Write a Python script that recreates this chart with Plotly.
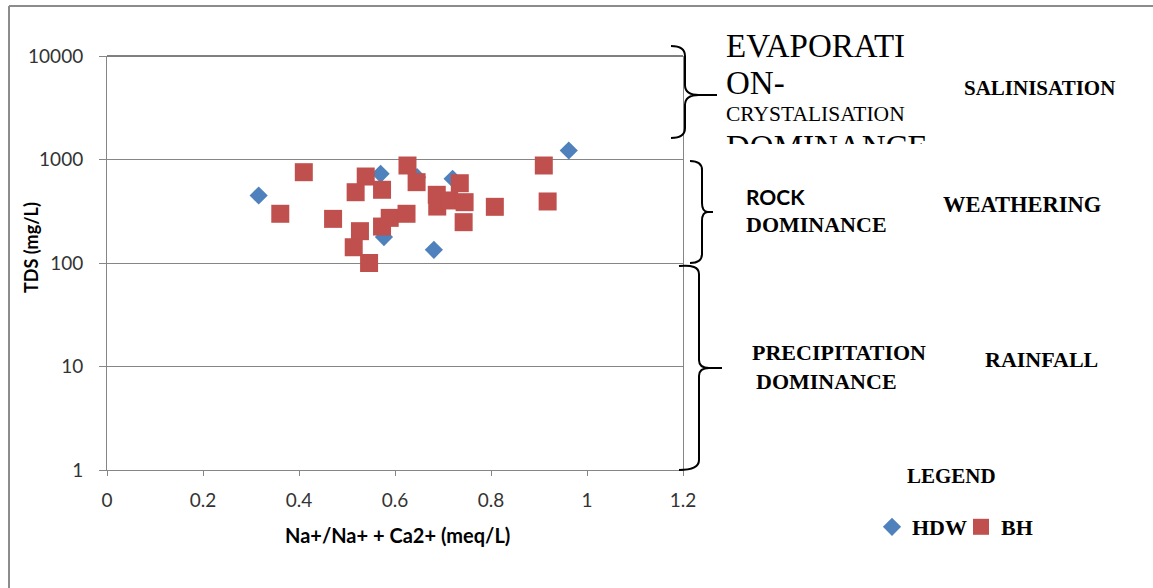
import plotly.graph_objects as go

# ---------------- data ----------------
hdw_x = [0.316, 0.570, 0.646, 0.720, 0.577, 0.681, 0.962]
hdw_y = [449, 727, 675, 652, 178, 134, 1222]

bh_x = [0.410, 0.361, 0.471, 0.518, 0.539, 0.573, 0.527, 0.514, 0.546, 0.573,
        0.589, 0.624, 0.626, 0.645, 0.687, 0.688, 0.713, 0.735, 0.745, 0.743,
        0.808, 0.910, 0.918]
bh_y = [754, 299, 267, 483, 685, 510, 203, 142, 100, 225,
        273, 299, 875, 604, 456, 351, 402, 590, 387, 248,
        349, 875, 393]

x_tick_vals = [0, 0.2, 0.4, 0.6, 0.8, 1.0, 1.2]
x_tick_text = ["0", "0.2", "0.4", "0.6", "0.8", "1", "1.2"]
y_tick_vals = [1, 10, 100, 1000, 10000]
y_tick_text = ["1", "10", "100", "1000", "10000"]

series_names = ["HDW", "BH"]
series_colors = ["#4F81BD", "#C0504D"]

x_title = "Na+/Na+ + Ca2+ (meq/L)"
y_title = "TDS (mg/L)"

box_lines = ["EVAPORATI", "ON-", "CRYSTALISATION", "DOMINANCE"]
box_sizes = [33, 33, 21.5, 33]

# ---------------- helpers (pixel -> paper) ----------------
W, H = 1153, 588
def px(x):
    return x / W
def py(y):
    return (H - y) / H

def path(cmds):
    out = []
    for c in cmds:
        if isinstance(c, str):
            out.append(c)
        else:
            out.append(f"{px(c[0]):.5f},{py(c[1]):.5f}")
    return " ".join(out)

SERIF = "Liberation Serif"
SANS = "Lato"

fig = go.Figure()

fig.add_trace(go.Scatter(
    x=hdw_x, y=hdw_y, mode="markers", name=series_names[0],
    marker=dict(symbol="diamond", size=14, color=series_colors[0]),
    xaxis="x", yaxis="y"))
fig.add_trace(go.Scatter(
    x=bh_x, y=bh_y, mode="markers", name=series_names[1],
    marker=dict(symbol="square", size=18, color=series_colors[1]),
    xaxis="x", yaxis="y"))

# clipped text box (evaporation-crystallisation dominance)
fig.add_trace(go.Scatter(
    x=[726, 726, 726, 726], y=[49, 86, 116, 150],
    mode="text", text=box_lines, textposition="middle right",
    textfont=dict(family=SERIF, size=box_sizes, color="#000000"),
    cliponaxis=True, showlegend=False, hoverinfo="skip",
    xaxis="x2", yaxis="y2"))

grid_col = "#868686"

fig.update_layout(
    template="none",
    width=W, height=H, autosize=False,
    margin=dict(l=0, r=0, t=0, b=0, pad=0, autoexpand=False),
    paper_bgcolor="white", plot_bgcolor="white",
    showlegend=True,
    legend=dict(orientation="h", x=px(872), y=py(527), xanchor="left", yanchor="middle",
                font=dict(family=SERIF, size=22, color="#000000", weight="bold"),
                bgcolor="rgba(0,0,0,0)", itemwidth=30, entrywidth=44, entrywidthmode="pixels",
                tracegroupgap=0, borderwidth=0),
    xaxis=dict(domain=[px(107), px(683)], range=[0, 1.2], automargin=False,
               tickvals=x_tick_vals, ticktext=x_tick_text,
               showgrid=False, zeroline=False,
               showline=True, linecolor=grid_col, linewidth=1,
               ticks="outside", ticklen=5, tickcolor=grid_col, tickwidth=1,
               ticklabelstandoff=8,
               tickfont=dict(family=SANS, size=19, color="#333333"),
               anchor="y"),
    yaxis=dict(domain=[py(470), py(56)], type="log", range=[0, 4], automargin=False,
               tickvals=y_tick_vals, ticktext=y_tick_text,
               showgrid=True, gridcolor=grid_col, gridwidth=1,
               zeroline=False, showline=True, linecolor=grid_col, linewidth=1,
               mirror=True,
               ticks="outside", ticklen=7, tickcolor=grid_col, tickwidth=1,
               ticklabelstandoff=12,
               tickfont=dict(family=SANS, size=19, color="#333333"),
               anchor="x"),
    xaxis2=dict(domain=[px(700), px(1000)], range=[700, 1000], visible=False,
                anchor="y2", fixedrange=True, automargin=False),
    yaxis2=dict(domain=[py(144), py(20)], range=[144, 20], visible=False,
                anchor="x2", fixedrange=True, automargin=False),
)

annotations = [
    dict(text=f"<b>{x_title}</b>", x=px(397), y=py(535), xanchor="center", yanchor="middle",
         font=dict(family=SANS, size=20, color="#000000")),
    dict(text=f"<b>{y_title}</b>", x=px(31), y=py(248), xanchor="center", yanchor="middle",
         textangle=-90, font=dict(family=SANS, size=18, color="#000000")),
    dict(text="<b>SALINISATION</b>", x=px(962), y=py(88), xanchor="left", yanchor="middle",
         font=dict(family=SERIF, size=21, color="#000000")),
    dict(text="<b>ROCK</b>", x=px(744), y=py(196), xanchor="left", yanchor="middle",
         font=dict(family=SANS, size=21, color="#000000")),
    dict(text="<b>DOMINANCE</b>", x=px(744), y=py(224), xanchor="left", yanchor="middle",
         font=dict(family=SERIF, size=22, color="#000000")),
    dict(text="<b>WEATHERING</b>", x=px(941), y=py(204), xanchor="left", yanchor="middle",
         font=dict(family=SERIF, size=22.5, color="#000000")),
    dict(text="<b>PRECIPITATION</b>", x=px(750), y=py(352), xanchor="left", yanchor="middle",
         font=dict(family=SERIF, size=22, color="#000000")),
    dict(text="<b>DOMINANCE</b>", x=px(754), y=py(381), xanchor="left", yanchor="middle",
         font=dict(family=SERIF, size=22, color="#000000")),
    dict(text="<b>RAINFALL</b>", x=px(983), y=py(359), xanchor="left", yanchor="middle",
         font=dict(family=SERIF, size=22, color="#000000")),
    dict(text="<b>LEGEND</b>", x=px(905), y=py(476), xanchor="left", yanchor="middle",
         font=dict(family=SERIF, size=21, color="#000000")),
]
for a in annotations:
    a.update(xref="paper", yref="paper", showarrow=False)
fig.update_layout(annotations=annotations)

brace1 = path(["M", (671, 46), "Q", (685, 46), (685, 56), "L", (685, 85), "Q", (685, 95), (699, 95),
               "L", (717, 95), "M", (699, 95), "Q", (685, 95), (685, 105), "L", (685, 128),
               "Q", (685, 138), (671, 138)])
brace2 = path(["M", (690, 161), "Q", (702, 161), (702, 170), "L", (702, 203), "Q", (702, 212), (708, 212),
               "L", (713, 212), "M", (708, 212), "Q", (702, 212), (702, 221), "L", (702, 254),
               "Q", (702, 263), (690, 263)])
brace3 = path(["M", (679, 266), "Q", (699, 264), (699, 274), "L", (699, 360), "Q", (699, 368), (709, 368),
               "L", (722, 368), "M", (709, 368), "Q", (699, 368), (699, 376), "L", (699, 460),
               "Q", (699, 470), (679, 470)])

shapes = []
for b in (brace1, brace2, brace3):
    shapes.append(dict(type="path", path=b, xref="paper", yref="paper",
                       line=dict(color="#000000", width=2)))
# black top edge at 10000
shapes.append(dict(type="line", xref="paper", yref="paper", x0=px(107), x1=px(683),
                   y0=py(56), y1=py(56), line=dict(color="#000000", width=1)))
# outer chart frame (left and top)
shapes.append(dict(type="line", xref="paper", yref="paper", x0=px(9), x1=px(9),
                   y0=py(6), y1=py(588), line=dict(color="#8c8c8c", width=2)))
shapes.append(dict(type="line", xref="paper", yref="paper", x0=px(9), x1=px(1153),
                   y0=py(6), y1=py(6), line=dict(color="#8c8c8c", width=2)))
fig.update_layout(shapes=shapes)

fig.write_html("out.html",
               config={"displayModeBar": False},
               post_script="document.body.style.margin='0';document.body.style.overflow='hidden';")
